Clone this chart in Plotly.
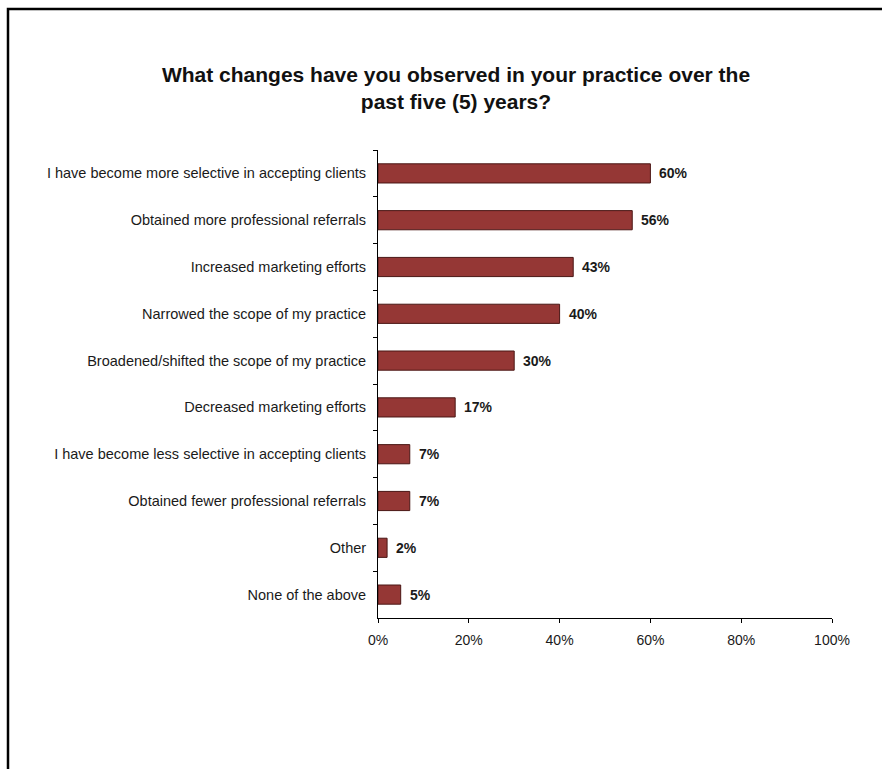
import plotly.graph_objects as go

# Survey responses (share of respondents)
categories = [
    "I have become more selective in accepting clients",
    "Obtained more professional referrals",
    "Increased marketing efforts",
    "Narrowed the scope of my practice",
    "Broadened/shifted the scope of my practice",
    "Decreased marketing efforts",
    "I have become less selective in accepting clients",
    "Obtained fewer professional referrals",
    "Other",
    "None of the above",
]
values = [60, 56, 43, 40, 30, 17, 7, 7, 2, 5]
x_ticks = [0, 20, 40, 60, 80, 100]
x_tick_labels = ["0%", "20%", "40%", "60%", "80%", "100%"]
title_text = "What changes have you observed in your practice over the<br>past five (5) years?"

W, H = 882, 769
L, R, T, B = 378, 50, 150, 151
pw, ph = W - L - R, H - T - B

FONT = "Liberation Sans, Arial, sans-serif"
TEXT = "#1a1a1a"

fig = go.Figure()
fig.add_trace(go.Bar(
    y=categories,
    x=values,
    orientation="h",
    marker=dict(color="#953735", line=dict(color="#4a1715", width=1)),
    width=0.41,
    hoverinfo="skip",
))

# Value labels to the right of each bar
for cat, v in zip(categories, values):
    fig.add_annotation(
        x=v, y=cat, xref="x", yref="y",
        text=f"<b>{v}%</b>", showarrow=False,
        xanchor="left", xshift=7,
        font=dict(family=FONT, size=14, color=TEXT),
    )

# Outer frame (left and top edges visible)
def px_to_paper_x(px):
    return (px - L) / pw

def px_to_paper_y(py):
    return (H - B - py) / ph

fig.add_shape(
    type="rect", xref="paper", yref="paper",
    x0=px_to_paper_x(8), x1=px_to_paper_x(W + 40),
    y0=px_to_paper_y(H + 40), y1=px_to_paper_y(9),
    line=dict(color="#000000", width=2.5),
    fillcolor="rgba(0,0,0,0)", layer="above",
)

fig.update_layout(
    width=W, height=H,
    margin=dict(l=L, r=R, t=T, b=B, pad=0),
    paper_bgcolor="white", plot_bgcolor="white",
    showlegend=False,
    title=dict(
        text=f"<b>{title_text}</b>",
        x=456 / W, xref="container", xanchor="center",
        y=1 - 82 / H, yref="container", yanchor="top",
        font=dict(family=FONT, size=21, color="#111111"),
    ),
    xaxis=dict(
        range=[0, 100],
        tickvals=x_ticks, ticktext=x_tick_labels,
        showgrid=False, zeroline=False,
        showline=True, linecolor="#000000", linewidth=1,
        ticks="outside", ticklen=4, tickcolor="#000000",
        tickfont=dict(family=FONT, size=14, color=TEXT),
        ticklabelstandoff=5,
        fixedrange=True,
    ),
    yaxis=dict(
        autorange="reversed",
        showgrid=False, zeroline=False,
        showline=True, linecolor="#000000", linewidth=1,
        ticks="outside", ticklen=4, tickcolor="#000000",
        tickson="boundaries",
        tickfont=dict(family=FONT, size=14.5, color=TEXT),
        ticklabelstandoff=8,
        fixedrange=True,
    ),
)

fig.write_html("out.html")
